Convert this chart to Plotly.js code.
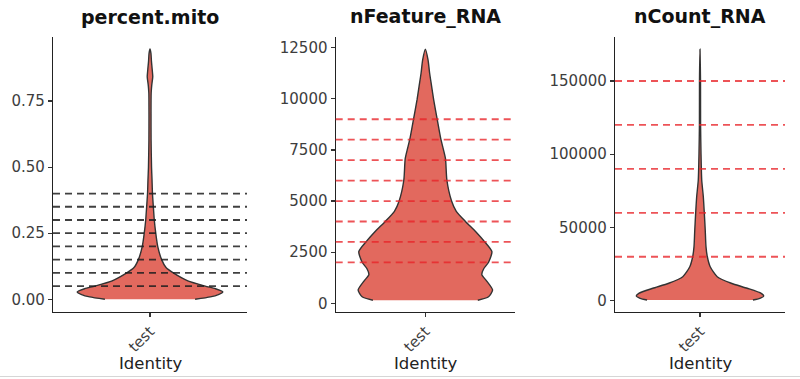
<!DOCTYPE html>
<html>
<head>
<meta charset="utf-8">
<script src="https://cdn.plot.ly/plotly-3.0.1.min.js"></script>
<style>html,body{margin:0;padding:0;background:#fff;}#chart{width:800px;height:379px;}</style>
</head>
<body>
<div id="chart"></div>
<script>
// ---- data ----
const panelTitles = ['percent.mito', 'nFeature_RNA', 'nCount_RNA'];
const groupLabel = 'test';
const xAxisTitle = 'Identity';

// violin outline: value levels and relative density (width) at each level
const mitoY = [0.000, 0.009, 0.018, 0.028, 0.040, 0.050, 0.070, 0.100, 0.120, 0.150, 0.200, 0.250, 0.300, 0.350, 0.400, 0.450, 0.500, 0.600, 0.700, 0.780, 0.810, 0.842, 0.870, 0.900, 0.930, 0.947];
const mitoDensity = [0.62, 0.83, 0.94, 1.00, 0.90, 0.76, 0.52, 0.32, 0.22, 0.16, 0.106, 0.079, 0.059, 0.046, 0.034, 0.028, 0.021, 0.015, 0.014, 0.016, 0.024, 0.038, 0.030, 0.020, 0.013, 0.0];

const featureY = [150, 323, 650, 1100, 1400, 1700, 2007, 2525, 3015, 3500, 3992, 4500, 5005, 6030, 7060, 7500, 8037, 9015, 9945, 10600, 11250, 11900, 12426];
const featureDensity = [0.78, 0.94, 1.0, 0.91, 0.84, 0.87, 0.94, 0.99, 0.88, 0.75, 0.60, 0.46, 0.39, 0.32, 0.30, 0.27, 0.23, 0.175, 0.124, 0.094, 0.064, 0.04, 0.0];

const countY = [480, 1640, 3200, 5050, 8500, 11900, 16400, 23200, 30000, 36900, 48300, 59700, 71000, 82400, 100000, 120000, 150000, 171700];
const countDensity = [0.83, 0.94, 1.0, 0.96, 0.74, 0.49, 0.27, 0.16, 0.115, 0.094, 0.082, 0.068, 0.052, 0.027, 0.016, 0.009, 0.008, 0.0];

// dashed threshold lines
const mitoCutoffs = [0.05, 0.10, 0.15, 0.20, 0.25, 0.30, 0.35, 0.40];
const featureCutoffs = [2000, 3000, 4000, 5000, 6000, 7000, 8000, 9000];
const countCutoffs = [30000, 60000, 90000, 120000, 150000];

// ---- styling / layout ----
const W = 800, H = 379;
const HALF = 0.45;
const fillCol = '#E2695E';
const edgeCol = '#333333';
const tickFont = {family: 'DejaVu Sans, sans-serif', size: 15, color: '#3d3d3d'};

function outline(ys, ds) {
  const xs = [], yy = [];
  for (let i = 0; i < ys.length; i++) { xs.push(-ds[i] * HALF); yy.push(ys[i]); }
  for (let i = ys.length - 2; i >= 0; i--) { xs.push(ds[i] * HALF); yy.push(ys[i]); }
  return {x: xs, y: yy};
}

const panels = [
  {ys: mitoY, ds: mitoDensity, cut: mitoCutoffs, cutCol: 'rgba(30,30,30,0.85)', xd: [53, 247], yr: [-0.0469, 0.9932], dtick: 0.25, fmt: '.2f'},
  {ys: featureY, ds: featureDensity, cut: featureCutoffs, cutCol: 'rgba(232,35,40,0.78)', xd: [335.7, 515], yr: [-411, 13038], dtick: 2500, fmt: 'd'},
  {ys: countY, ds: countDensity, cut: countCutoffs, cutCol: 'rgba(232,35,40,0.78)', xd: [615, 785], yr: [-7510, 180240], dtick: 50000, fmt: 'd'}
];

const yDom = [(H - 311.7) / H, (H - 36.7) / H];
const traces = [], shapes = [], annotations = [];
const layout = {
  width: W, height: H,
  margin: {l: 0, r: 0, t: 0, b: 0},
  paper_bgcolor: '#ffffff', plot_bgcolor: '#ffffff',
  showlegend: false,
  font: {family: 'DejaVu Sans, sans-serif'}
};

panels.forEach((p, k) => {
  const sfx = k === 0 ? '' : String(k + 1);
  const o = outline(p.ys, p.ds);
  traces.push({
    type: 'scatter', mode: 'lines', x: o.x, y: o.y,
    xaxis: 'x' + sfx, yaxis: 'y' + sfx,
    fill: 'toself', fillcolor: fillCol,
    line: {color: edgeCol, width: 1.4, shape: 'spline', smoothing: 0.6},
    hoverinfo: 'skip'
  });
  layout['xaxis' + sfx] = {
    domain: [p.xd[0] / W, p.xd[1] / W], anchor: 'y' + sfx,
    range: [-0.6, 0.6], tickvals: [0], ticktext: [groupLabel], tickangle: -45,
    showline: true, linecolor: '#222', linewidth: 1.2,
    ticks: 'outside', ticklen: 4, tickcolor: '#333', tickwidth: 1.2,
    showgrid: false, zeroline: false, tickfont: tickFont, fixedrange: true
  };
  layout['yaxis' + sfx] = {
    domain: yDom, anchor: 'x' + sfx, range: p.yr,
    tick0: 0, dtick: p.dtick, tickformat: p.fmt,
    showline: true, linecolor: '#222', linewidth: 1.2,
    ticks: 'outside', ticklen: 4, tickcolor: '#333', tickwidth: 1.2,
    showgrid: false, zeroline: false, tickfont: tickFont, fixedrange: true
  };
  p.cut.forEach(c => shapes.push({
    type: 'line', xref: 'x' + sfx + ' domain', yref: 'y' + sfx,
    x0: 0, x1: 1, y0: c, y1: c, layer: 'above',
    line: {color: p.cutCol, width: 1.8, dash: '7px,5px'}
  }));
  const cx = (p.xd[0] + p.xd[1]) / 2 / W;
  annotations.push({
    xref: 'paper', yref: 'paper', x: cx, y: 1 - 17 / H, xanchor: 'center', yanchor: 'middle',
    text: panelTitles[k], showarrow: false,
    font: {family: 'DejaVu Sans, sans-serif', size: 19, color: '#111', weight: 'bold'}
  });
  annotations.push({
    xref: 'paper', yref: 'paper', x: cx, y: 1 - 363 / H, xanchor: 'center', yanchor: 'middle',
    text: xAxisTitle, showarrow: false,
    font: {family: 'DejaVu Sans, sans-serif', size: 16.5, color: '#222'}
  });
});

shapes.push({type: 'line', xref: 'paper', yref: 'paper', x0: 0, x1: 1, y0: 2.5 / H, y1: 2.5 / H,
  line: {color: '#d6d6d6', width: 1}});

layout.shapes = shapes;
layout.annotations = annotations;

Plotly.newPlot('chart', traces, layout, {displayModeBar: false, staticPlot: true});
</script>
</body>
</html>
